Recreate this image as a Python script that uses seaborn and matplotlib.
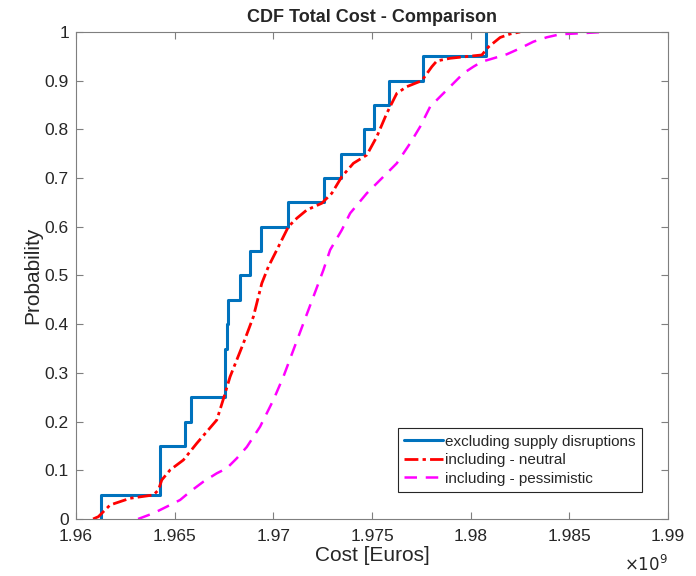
import numpy as np
import pandas as pd
import seaborn as sns
import matplotlib.pyplot as plt

# Cost values in units of 1e9 Euros

# excluding supply disruptions: 20 scenario costs (empirical CDF)
cost_excl = [1.96126, 1.96427, 1.96427, 1.96553, 1.96584, 1.96756, 1.96756,
             1.96763, 1.96769, 1.96832, 1.96883, 1.96937, 1.97077, 1.97257,
             1.97342, 1.97460, 1.97512, 1.97585, 1.97757, 1.98077]

# including - neutral: traced CDF points
cost_neutral = [1.960871, 1.961140, 1.961733, 1.962746, 1.963926, 1.964180,
                1.964352, 1.964772, 1.965446, 1.966125, 1.966631, 1.967138,
                1.967472, 1.967812, 1.968486, 1.968992, 1.969418, 1.969752,
                1.970178, 1.970765, 1.971191, 1.971697, 1.972457, 1.972964,
                1.973470, 1.974058, 1.974737, 1.975243, 1.975750, 1.976257,
                1.976763, 1.977523, 1.978030, 1.978283, 1.978957, 1.980563,
                1.980897, 1.981490, 1.981997, 1.982503]
prob_neutral = [0.0, 0.0047, 0.0287, 0.0425, 0.0493, 0.0595, 0.0801, 0.1006,
                0.1211, 0.1554, 0.1793, 0.2033, 0.2464, 0.2922, 0.3608, 0.4154,
                0.4840, 0.5181, 0.5524, 0.6002, 0.6175, 0.6345, 0.6483, 0.6688,
                0.7029, 0.7304, 0.7474, 0.7850, 0.8331, 0.8741, 0.8877, 0.9000,
                0.9287, 0.9405, 0.9460, 0.9528, 0.9692, 0.9887, 0.9959, 1.0]

# including - pessimistic: traced CDF points
cost_pess = [1.963151, 1.963926, 1.964605, 1.965279, 1.965785, 1.966459,
             1.967138, 1.967644, 1.968151, 1.968657, 1.969331, 1.970005,
             1.970512, 1.971018, 1.971525, 1.972032, 1.972538, 1.972878,
             1.973470, 1.973891, 1.974737, 1.975578, 1.976257, 1.976931,
             1.977437, 1.977944, 1.978450, 1.978957, 1.979631, 1.980137,
             1.980563, 1.980983, 1.981829, 1.982503, 1.983177, 1.983855,
             1.984529, 1.985542, 1.986758]
prob_pess = [0.0, 0.0117, 0.0253, 0.0390, 0.0561, 0.0766, 0.0938, 0.1041,
             0.1246, 0.1478, 0.1895, 0.2444, 0.2922, 0.3470, 0.4018, 0.4565,
             0.5113, 0.5524, 0.5934, 0.6277, 0.6688, 0.7029, 0.7304, 0.7715,
             0.8055, 0.8466, 0.8672, 0.8877, 0.9152, 0.9287, 0.9390, 0.9439,
             0.9542, 0.9665, 0.9801, 0.9891, 0.9953, 0.9973, 1.0]

x_ticks = [1.96, 1.965, 1.97, 1.975, 1.98, 1.985, 1.99]
y_ticks = [0, 0.1, 0.2, 0.3, 0.4, 0.5, 0.6, 0.7, 0.8, 0.9, 1]

sns.set_theme(style="ticks")
plt.rcParams['font.family'] = ['Liberation Sans', 'DejaVu Sans']

fig = plt.figure(figsize=(6.96, 5.76), dpi=100)
ax = fig.add_axes([0.109, 0.099, 0.851, 0.8455])

df_neutral = pd.DataFrame({'cost': cost_neutral, 'prob': prob_neutral})
df_pess = pd.DataFrame({'cost': cost_pess, 'prob': prob_pess})

sns.ecdfplot(x=cost_excl, ax=ax, color='#0072BD', linewidth=2.2,
             label='excluding supply disruptions')
sns.lineplot(data=df_neutral, x='cost', y='prob', ax=ax, color='red',
             linewidth=2.0, linestyle=(0, (5, 1.5, 1.2, 1.5)),
             label='including - neutral', sort=False)
sns.lineplot(data=df_pess, x='cost', y='prob', ax=ax, color='magenta',
             linewidth=1.8, linestyle=(0, (5, 3.5)),
             label='including - pessimistic', sort=False)

ax.set_xlim(1.96, 1.99)
ax.set_ylim(0, 1)
ax.set_xticks(x_ticks)
ax.set_yticks(y_ticks)
ax.set_xticklabels(['%g' % t for t in x_ticks])
ax.set_yticklabels(['%g' % t for t in y_ticks])

ax.tick_params(direction='in', top=True, right=True, length=5, width=0.8,
               color='#7f7f7f', labelsize=12.5, labelcolor='#262626', pad=5)
ax.tick_params(axis='x', pad=7)
for s in ax.spines.values():
    s.set_color('#7f7f7f')
    s.set_linewidth(0.8)

ax.set_title('CDF Total Cost - Comparison', fontsize=13, fontweight='bold',
             pad=7)
ax.set_xlabel('Cost [Euros]', fontsize=15, color='#262626', labelpad=2)
ax.set_ylabel('Probability', fontsize=15, color='#262626', labelpad=2)
ax.text(1.0, -0.093, r'$\times10^9$', transform=ax.transAxes, ha='right',
        va='center', fontsize=12, color='#262626')

leg = ax.legend(loc='lower right', fontsize=11, frameon=True, fancybox=False,
                framealpha=1, edgecolor='#262626', handlelength=2.6,
                handletextpad=0.1, labelspacing=0.3, borderpad=0.4,
                bbox_to_anchor=(0.968, 0.04))
leg.get_frame().set_linewidth(0.8)

plt.savefig('out.png', dpi=100)
